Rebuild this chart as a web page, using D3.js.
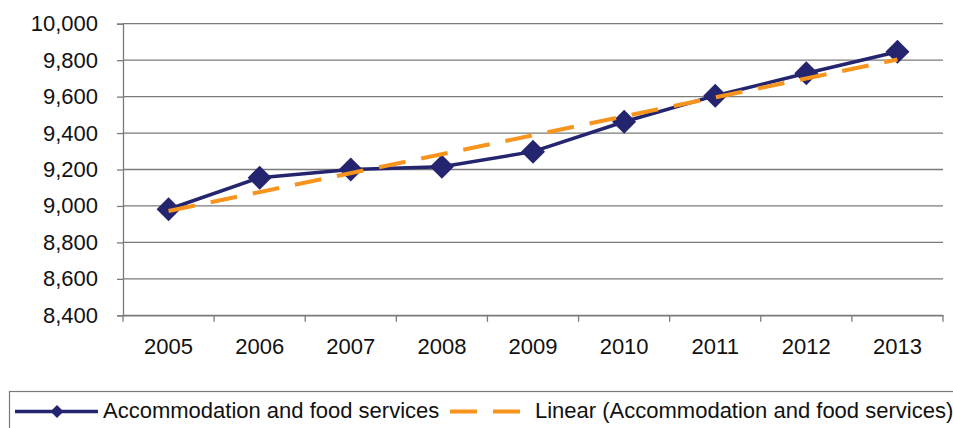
<!DOCTYPE html>
<html>
<head>
<meta charset="utf-8">
<script src="https://cdn.jsdelivr.net/npm/d3@7"></script>
<style>
  html, body { margin: 0; padding: 0; background: #fff; }
  svg { display: block; font-family: "Liberation Sans", Arial, sans-serif; }
</style>
</head>
<body>
<svg id="chart" width="953" height="428"></svg>
<script>
// Employment in accommodation and food services, by year
const years = ["2005", "2006", "2007", "2008", "2009", "2010", "2011", "2012", "2013"];
const values = [8982, 9155, 9200, 9215, 9298, 9462, 9605, 9728, 9846];
const yTicks = [8400, 8600, 8800, 9000, 9200, 9400, 9600, 9800, 10000];
const seriesName = "Accommodation and food services";
const trendName = "Linear (Accommodation and food services)";

const navy = "#25256f";
const orange = "#f7941d";
const grid = "#7a7a7a";
const fontSize = 22;

const svg = d3.select("#chart");
const plotLeft = 123, plotRight = 943, plotTop = 23.7, plotBottom = 315.3;

const x = d3.scaleBand().domain(years).range([plotLeft, plotRight]);
const y = d3.scaleLinear().domain([8400, 10000]).range([plotBottom, plotTop]);

// horizontal gridlines
svg.append("g")
  .selectAll("line")
  .data(yTicks)
  .join("line")
  .attr("x1", plotLeft).attr("x2", plotRight)
  .attr("y1", d => y(d)).attr("y2", d => y(d))
  .attr("stroke", grid).attr("stroke-width", 1.3);

// y axis
const yAxis = svg.append("g")
  .attr("transform", `translate(${plotLeft},0)`)
  .call(d3.axisLeft(y).tickValues(yTicks).tickSize(6).tickPadding(19)
    .tickFormat(d3.format(",")));
yAxis.select(".domain").attr("stroke", grid).attr("stroke-width", 1.3);
yAxis.selectAll(".tick line").attr("stroke", grid).attr("stroke-width", 1.3);
yAxis.selectAll(".tick text")
  .attr("font-size", fontSize).attr("fill", "#111")
  .attr("font-family", "Liberation Sans, Arial, sans-serif");

// x axis with ticks at category boundaries
const xAxis = svg.append("g")
  .attr("transform", `translate(0,${plotBottom})`)
  .call(d3.axisBottom(x).tickSize(0).tickPadding(23));
xAxis.select(".domain").attr("stroke", grid).attr("stroke-width", 1.3);
xAxis.selectAll(".tick text")
  .attr("font-size", fontSize).attr("fill", "#111")
  .attr("font-family", "Liberation Sans, Arial, sans-serif");
const bounds = years.map(d => x(d)).concat([x(years[years.length - 1]) + x.bandwidth()]);
svg.append("g")
  .selectAll("line")
  .data(bounds)
  .join("line")
  .attr("x1", d => d).attr("x2", d => d)
  .attr("y1", plotBottom).attr("y2", plotBottom + 6.5)
  .attr("stroke", grid).attr("stroke-width", 1.3);

const cx = d => x(d) + x.bandwidth() / 2;

// least-squares trend line
const n = values.length;
const idx = d3.range(n);
const mx = d3.mean(idx), my = d3.mean(values);
const slope = d3.sum(idx, i => (i - mx) * (values[i] - my)) / d3.sum(idx, i => (i - mx) ** 2);
const intercept = my - slope * mx;
const trend = [0, n - 1].map(i => ({ year: years[i], v: intercept + slope * i }));

// data line
svg.append("path")
  .datum(values)
  .attr("fill", "none")
  .attr("stroke", navy)
  .attr("stroke-width", 3.5)
  .attr("stroke-linejoin", "round")
  .attr("d", d3.line().x((d, i) => cx(years[i])).y(d => y(d)));

// diamond markers
const diamond = s => `M0,${-s}L${s},0L0,${s}L${-s},0Z`;
svg.append("g")
  .selectAll("path")
  .data(values)
  .join("path")
  .attr("transform", (d, i) => `translate(${cx(years[i])},${y(d)})`)
  .attr("d", diamond(12))
  .attr("fill", navy);

// trend line drawn on top
svg.append("path")
  .datum(trend)
  .attr("fill", "none")
  .attr("stroke", orange)
  .attr("stroke-width", 4)
  .attr("stroke-dasharray", "27,16")
  .attr("d", d3.line().x(d => cx(d.year)).y(d => y(d.v)));

// legend
const lg = svg.append("g");
lg.append("rect")
  .attr("x", 9.5).attr("y", 391.5).attr("width", 960).attr("height", 60)
  .attr("fill", "none").attr("stroke", grid).attr("stroke-width", 1.2);
const ly = 411.5;
lg.append("line")
  .attr("x1", 15).attr("x2", 98).attr("y1", ly).attr("y2", ly)
  .attr("stroke", navy).attr("stroke-width", 3.5);
lg.append("path")
  .attr("transform", `translate(57,${ly})`)
  .attr("d", diamond(6.5)).attr("fill", navy);
lg.append("text")
  .attr("x", 103).attr("y", 417.5)
  .attr("font-size", fontSize).attr("fill", "#111")
  .text(seriesName);
lg.append("line")
  .attr("x1", 450).attr("x2", 520).attr("y1", ly).attr("y2", ly)
  .attr("stroke", orange).attr("stroke-width", 4)
  .attr("stroke-dasharray", "27,16");
lg.append("text")
  .attr("x", 535).attr("y", 417.5)
  .attr("font-size", fontSize).attr("fill", "#111")
  .text(trendName);
</script>
</body>
</html>
